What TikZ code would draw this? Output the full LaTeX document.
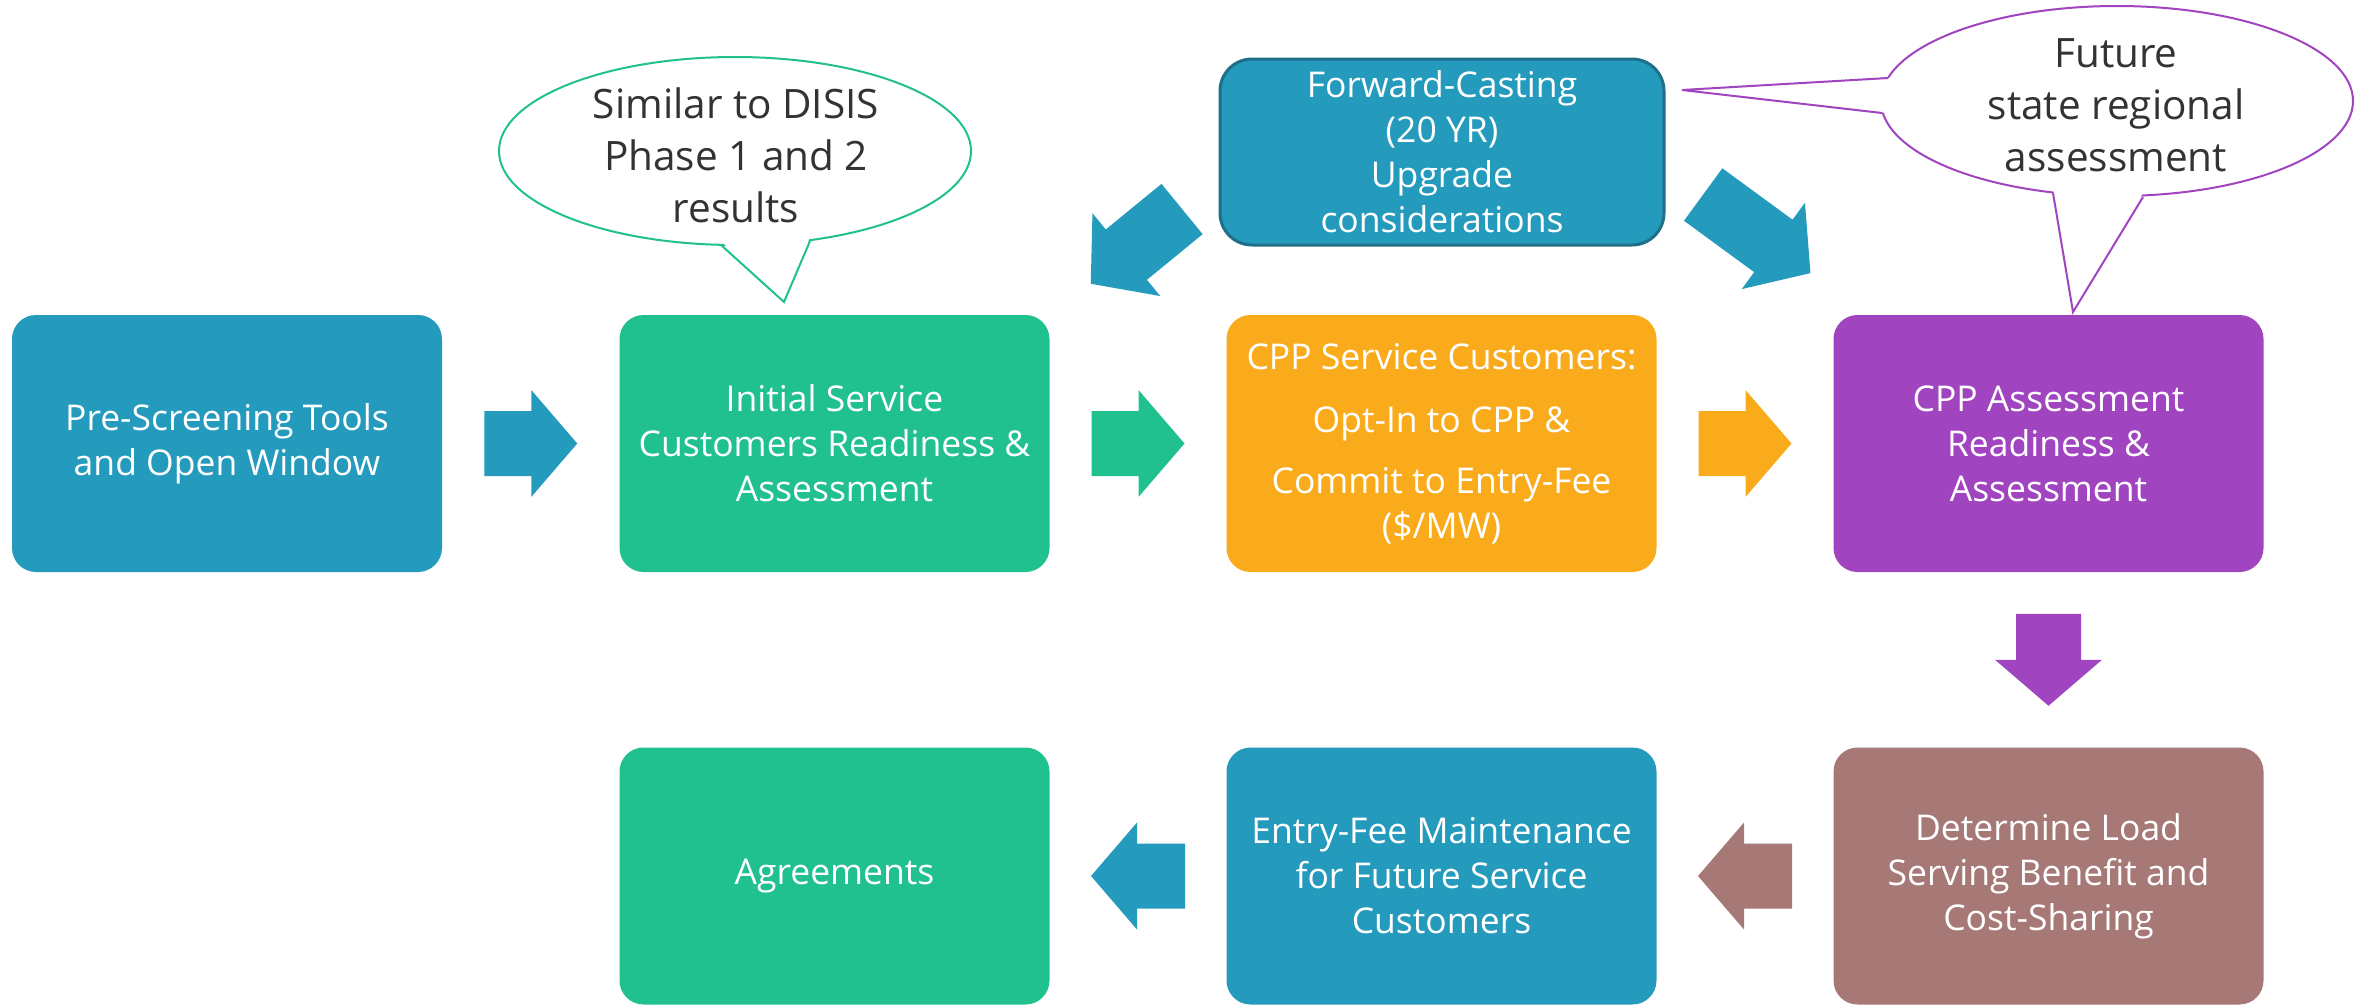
\documentclass[tikz,border=0pt]{standalone}
\usepackage{fontspec}
\setmainfont{Open Sans}
\usetikzlibrary{shapes.geometric,calc}

\definecolor{cblue}{HTML}{249ABD}
\definecolor{cgreen}{HTML}{21C08F}
\definecolor{corange}{HTML}{F9AB1C}
\definecolor{cpurple}{HTML}{A044BF}
\definecolor{cbrown}{HTML}{A67876}
\definecolor{cdark}{HTML}{1F6F88}
\definecolor{ctext}{HTML}{333333}

% block arrow: colour, centre, angle, shaft length
\newcommand{\blockarrow}[4]{%
  \fill[#1, shift={(#2)}, rotate=#3]
    ({-(#4+46)/2},-32.5) -- ({(#4-46)/2},-32.5) -- ({(#4-46)/2},-53.5)
    -- ({(#4+46)/2},0) -- ({(#4-46)/2},53.5) -- ({(#4-46)/2},32.5)
    -- ({-(#4+46)/2},32.5) -- cycle;}

\begin{document}
\begin{tikzpicture}[x=1pt, y=-1pt,
  box/.style={rounded corners=24pt, minimum width=430pt, minimum height=257pt,
    text=white, align=center, font=\fontsize{35.5}{45}\selectfont},
  notetext/.style={text=ctext, align=center, font=\fontsize{40.5}{52}\selectfont}]
\useasboundingbox (0,0) rectangle (2371,1004);

% top row
\node[box, fill=cblue] (pre) at (227,443.5) {Pre-Screening Tools\\and Open Window};
\node[box, fill=cgreen] (init) at (834.5,443.5) {Initial Service\\Customers Readiness \&\\Assessment};
\node[box, fill=corange] (cppsvc) at (1441.5,443.5) {CPP Service Customers:\\[18pt]Opt-In to CPP \&\\[16pt]Commit to Entry-Fee\\(\$/MW)};
\node[box, fill=cpurple] (cppas) at (2048.5,443.5) {CPP Assessment\\Readiness \&\\Assessment};

% bottom row
\node[box, fill=cgreen] (agree) at (834.5,876) {Agreements};
\node[box, fill=cblue] (fee) at (1441.5,876) {Entry-Fee Maintenance\\for Future Service\\Customers};
\node[box, fill=cbrown] (load) at (2048.5,876) {Determine Load\\Serving Benefit and\\Cost-Sharing};

\node[box, fill=cblue, draw=cdark, line width=3pt, rounded corners=32pt,
  minimum width=444pt, minimum height=186pt] (fwd) at (1442,152)
  {Forward-Casting\\(20 YR)\\Upgrade\\considerations};

% arrows
\blockarrow{cblue}{$(pre.east)!0.5!(init.west)$}{0}{47}
\blockarrow{cgreen}{$(init.east)!0.5!(cppsvc.west)$}{0}{47}
\blockarrow{corange}{$(cppsvc.east)!0.5!(cppas.west)$}{0}{47}
\blockarrow{cpurple}{$(cppas.south)!0.5!(load.north)$}{-90}{46}
\blockarrow{cbrown}{$(load.west)!0.5!(fee.east)$}{180}{48}
\blockarrow{cblue}{$(fee.west)!0.5!(agree.east)$}{180}{48}
\blockarrow{cblue}{1136.4,246.4}{219.3}{72}
\blockarrow{cblue}{1756.8,233.8}{-36.2}{87}

% callout green
\coordinate (simc) at (735,151);
\coordinate (sima) at (721,245);
\coordinate (simb) at (810,241);
\coordinate (simtip) at (784,302);
\draw[cgreen, line width=2pt, fill=white] (simc) ellipse [x radius=236, y radius=94];
\fill[white] ($(sima)+(0,-4)$) -- (simtip) -- ($(simb)+(0,-4)$) -- cycle;
\draw[cgreen, line width=2pt] (sima) -- (simtip) -- (simb);
\node[notetext] (simnote) at (736,155) {Similar to DISIS\\Phase 1 and 2\\results};

% callout purple
\coordinate (futc) at (2117,101);
\coordinate (futa) at (1888,78);
\coordinate (futb) at (1882,113);
\coordinate (futtip) at (1682,90);
\coordinate (futd) at (2053,193);
\coordinate (fute) at (2143,197);
\coordinate (futlow) at (2073,312);
\draw[cpurple, line width=2pt, fill=white] (futc) ellipse [x radius=236, y radius=95];
\fill[white] ($(futa)+(5,0)$) -- (futtip) -- ($(futb)+(5,0)$) -- cycle;
\fill[white] ($(futd)+(0,-4)$) -- (futlow) -- ($(fute)+(0,-4)$) -- cycle;
\draw[cpurple, line width=2pt] (futa) -- (futtip) -- (futb);
\draw[cpurple, line width=2pt] (futd) -- (futlow) -- (fute);
\node[notetext] (futnote) at (2116,105) {Future\\state regional\\assessment};
\end{tikzpicture}
\end{document}
